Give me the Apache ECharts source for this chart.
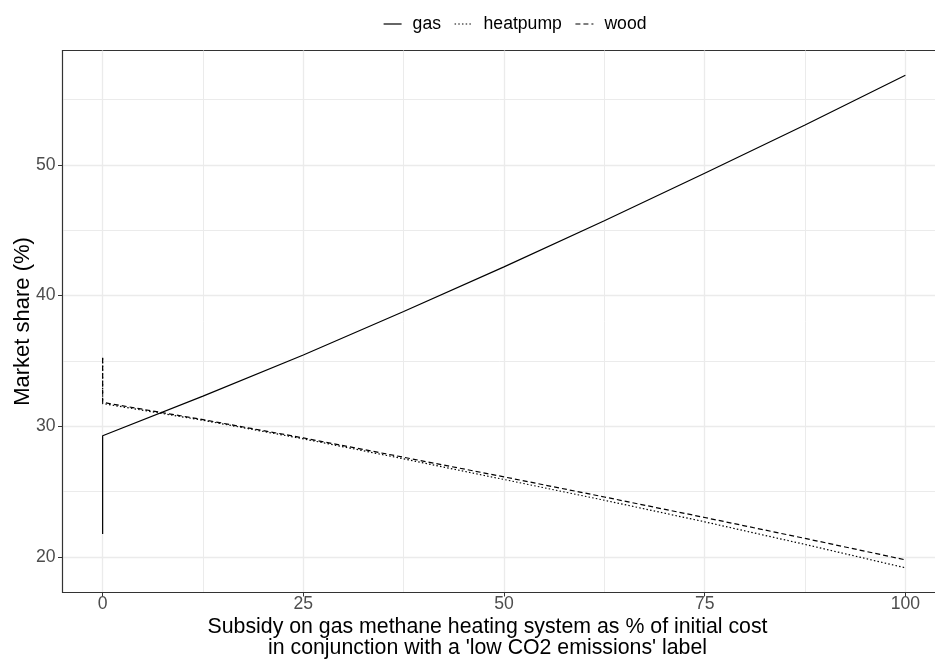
<!DOCTYPE html>
<html>
<head>
<meta charset="utf-8">
<script src="https://cdn.jsdelivr.net/npm/echarts@6/dist/echarts.min.js"></script>
<style>html,body{margin:0;padding:0;background:#fff}#c{width:935px;height:659px}</style>
</head>
<body>
<div id="c"></div>
<script>
// ---- data ----
var seriesNames = ['gas', 'heatpump', 'wood'];
var subsidyX = [0, 0, 12.5, 25, 37.5, 50, 62.5, 75, 87.5, 100];
var gasShare = [21.74, 29.27, 32.30, 35.45, 38.78, 42.19, 45.72, 49.36, 53.05, 56.86];
var heatpumpShare = [35.20, 31.73, 30.45, 29.03, 27.50, 25.92, 24.33, 22.68, 20.95, 19.16];
var woodShare = [35.24, 31.82, 30.50, 29.10, 27.62, 26.12, 24.58, 23.01, 21.41, 19.77];
var xMajorTicks = [0, 25, 50, 75, 100];
var xMinorGrid = [12.5, 37.5, 62.5, 87.5];
var yMajorTicks = [20, 30, 40, 50];
var yMinorGrid = [25, 35, 45, 55];
var xTitle = "Subsidy on gas methane heating system as % of initial cost\nin conjunction with a 'low CO2 emissions' label";
var yTitle = 'Market share (%)';

function pairs(xs, ys) { return xs.map(function (x, i) { return [x, ys[i]]; }); }

var FONT = '"Liberation Sans", Arial, Helvetica, sans-serif';
var GRID = '#EBEBEB';
var chart = echarts.init(document.getElementById('c'), null, {renderer: 'canvas'});

var lineTypes = ['solid', [1.5, 2.2], [5, 3]];
var values = [gasShare, heatpumpShare, woodShare];

chart.setOption({
  animation: false,
  backgroundColor: '#fff',
  textStyle: {fontFamily: FONT},
  grid: {left: 62.5, top: 50.5, right: -10.5, bottom: 66.5, containLabel: false, outerBoundsMode: 'none',
         show: true, borderColor: '#333', borderWidth: 1.1, backgroundColor: 'transparent'},
  legend: {
    left: 378, top: 10, itemWidth: 18, itemHeight: 10, itemGap: 13,
    itemStyle: {opacity: 0},
    lineStyle: {width: 1.2},
    textStyle: {fontSize: 17.6, color: '#000', fontFamily: FONT, padding: [0, 0, 0, 6]},
    data: seriesNames
  },
  xAxis: [{
    type: 'value', min: -5, max: 105,
    axisLine: {show: true, onZero: false, lineStyle: {color: '#333', width: 1.1}},
    axisTick: {show: true, length: 4, customValues: xMajorTicks, lineStyle: {color: '#333'}},
    axisLabel: {customValues: xMajorTicks, fontSize: 17.6, color: '#4D4D4D', margin: 3, fontFamily: FONT},
    splitLine: {show: true, lineStyle: {color: GRID, width: 1.3}}
  }, {
    type: 'value', min: -5, max: 105, position: 'bottom',
    axisLine: {show: false}, axisLabel: {show: false},
    axisTick: {show: false, customValues: xMinorGrid},
    splitLine: {show: true, lineStyle: {color: GRID, width: 1}}
  }],
  yAxis: [{
    type: 'value', min: 17.27, max: 58.75,
    name: yTitle, nameLocation: 'middle', nameGap: 29, nameMoveOverlap: false,
    nameTextStyle: {fontSize: 22, color: '#000', fontFamily: FONT},
    axisLine: {show: true, onZero: false, lineStyle: {color: '#333', width: 1.1}},
    axisTick: {show: true, length: 4.5, customValues: yMajorTicks, lineStyle: {color: '#333'}},
    axisLabel: {customValues: yMajorTicks, fontSize: 17.6, color: '#4D4D4D', margin: 7, fontFamily: FONT},
    splitLine: {show: true, lineStyle: {color: GRID, width: 1.3}}
  }, {
    type: 'value', min: 17.27, max: 58.75, position: 'left',
    axisLine: {show: false}, axisLabel: {show: false},
    axisTick: {show: false, customValues: yMinorGrid},
    splitLine: {show: true, lineStyle: {color: GRID, width: 1}}
  }],
  graphic: [{
    type: 'text', x: 487.5, y: 616,
    style: {text: xTitle, fontSize: 21.3, fontFamily: FONT, fill: '#000', textAlign: 'center', textVerticalAlign: 'top', lineHeight: 21.5}
  }],
  series: seriesNames.map(function (n, i) {
    return {
      name: n, type: 'line', xAxisIndex: 0, yAxisIndex: 0,
      data: pairs(subsidyX, values[i]),
      symbol: 'none', showSymbol: false, smooth: false,
      lineStyle: {color: '#000', width: 1.2, type: lineTypes[i]},
      itemStyle: {color: '#000'}
    };
  })
});
</script>
</body>
</html>
